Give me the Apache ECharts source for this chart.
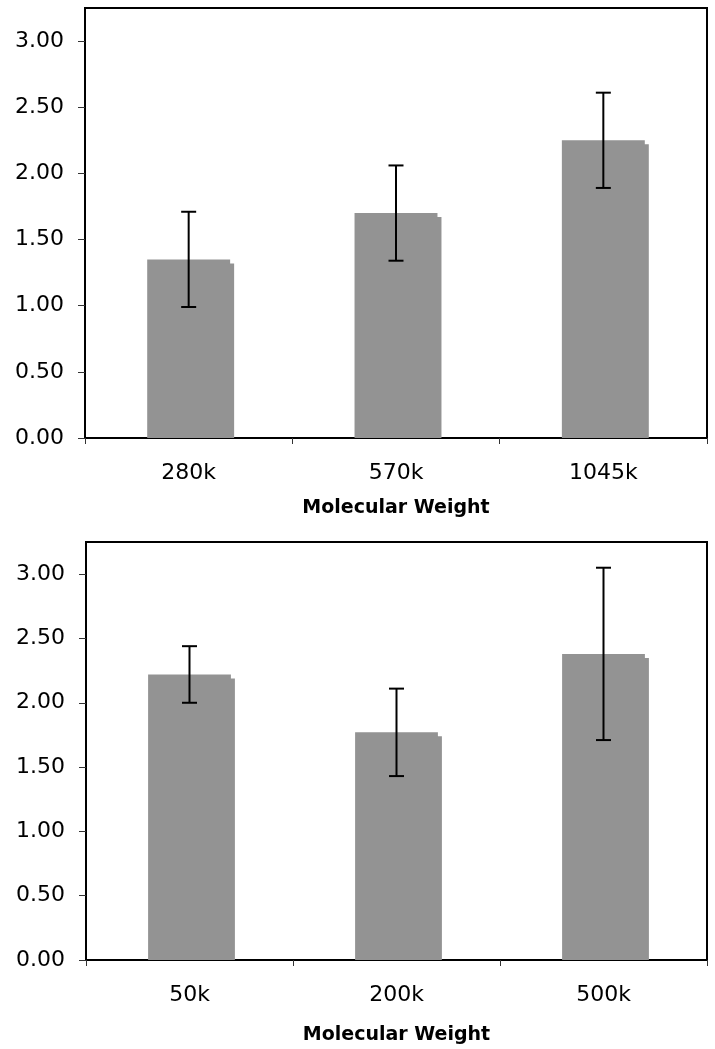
<!DOCTYPE html>
<html>
<head>
<meta charset="utf-8">
<script src="https://cdn.jsdelivr.net/npm/echarts@6/dist/echarts.min.js"></script>
<style>
	html,body{margin:0;padding:0;background:#fff;}
	#mw_chart{width:715px;height:1049px;}
</style>
</head>
<body>
<div id="mw_chart"></div>
<script>
/* 分子量 - 柱状图 + 误差线 */
var catTop = ['280k', '570k', '1045k'];
var meanTop = [1.35, 1.70, 2.25];
var errTop = [0.36, 0.36, 0.36];

var catBottom = ['50k', '200k', '500k'];
var meanBottom = [2.22, 1.77, 2.38];
var errBottom = [0.22, 0.34, 0.67];

var yTicks = [0, 0.5, 1, 1.5, 2, 2.5, 3];

(function(){
	var myChart = echarts.init(document.getElementById('mw_chart'));
	var font = 'DejaVu Sans';
	var barColor = '#939393';

	function barItem(params, api){
		var base = api.coord([api.value(0), 0]);
		var top = api.coord([api.value(0), api.value(1)]);
		var w = api.size([1, 0])[0] * 0.4;
		var x0 = base[0] - w / 2;
		return {
			type: 'polygon',
			shape: {
				points: [[x0, top[1]], [x0 + w, top[1]], [x0 + w, top[1] + 4],
					[x0 + w + 4, top[1] + 4], [x0 + w + 4, base[1]], [x0, base[1]]]
			},
			style: { fill: barColor }
		};
	}

	function errItem(params, api){
		var lo = api.coord([api.value(0), api.value(1)]);
		var hi = api.coord([api.value(0), api.value(2)]);
		var cap = 7.5;
		var st = { stroke: '#000', lineWidth: 2 };
		return {
			type: 'group',
			children: [
				{ type: 'line', shape: { x1: lo[0], y1: lo[1], x2: hi[0], y2: hi[1] }, style: st },
				{ type: 'line', shape: { x1: lo[0] - cap, y1: lo[1], x2: lo[0] + cap, y2: lo[1] }, style: st },
				{ type: 'line', shape: { x1: hi[0] - cap, y1: hi[1], x2: hi[0] + cap, y2: hi[1] }, style: st }
			]
		};
	}

	function xAxisOf(cats, idx, gap, margin){
		return {
			type: 'category',
			gridIndex: idx,
			data: cats,
			boundaryGap: true,
			name: 'Molecular Weight',
			nameLocation: 'middle',
			nameGap: gap,
			nameTextStyle: { fontFamily: font, fontSize: 19, fontWeight: 'bold', color: '#000' },
			axisLine: { show: false },
			axisTick: { show: true, alignWithLabel: false, length: 6, lineStyle: { color: '#333', width: 1 } },
			axisLabel: { fontFamily: font, fontSize: 22, color: '#000', margin: margin },
			splitLine: { show: false }
		};
	}

	function yAxisOf(idx){
		return {
			type: 'value',
			gridIndex: idx,
			min: 0,
			max: 3.25,
			axisLine: { show: false },
			axisTick: { show: true, length: 7, customValues: yTicks, lineStyle: { color: '#333', width: 1 } },
			axisLabel: {
				fontFamily: font, fontSize: 22, color: '#000', margin: 21,
				customValues: yTicks,
				formatter: function(v){ return v.toFixed(2); }
			},
			splitLine: { show: false }
		};
	}

	function pairs(vals){
		return vals.map(function(v, i){ return [i, v]; });
	}
	function errs(vals, e){
		return vals.map(function(v, i){ return [i, v - e[i], v + e[i]]; });
	}

	var option = {
		animation: false,
		backgroundColor: '#fff',
		grid: [
			{ left: 85, right: 8, top: 8, height: 430, show: true, borderColor: '#000', borderWidth: 2, backgroundColor: 'transparent' },
			{ left: 86, right: 8, top: 542, height: 418, show: true, borderColor: '#000', borderWidth: 2, backgroundColor: 'transparent' }
		],
		xAxis: [ xAxisOf(catTop, 0, 61, 24), xAxisOf(catBottom, 1, 66, 24) ],
		yAxis: [ yAxisOf(0), yAxisOf(1) ],
		series: [
			{ type: 'custom', xAxisIndex: 0, yAxisIndex: 0, renderItem: barItem, encode: { x: 0, y: 1 }, data: pairs(meanTop) },
			{ type: 'custom', xAxisIndex: 0, yAxisIndex: 0, renderItem: errItem, encode: { x: 0, y: [1, 2] }, data: errs(meanTop, errTop), z: 3 },
			{ type: 'custom', xAxisIndex: 1, yAxisIndex: 1, renderItem: barItem, encode: { x: 0, y: 1 }, data: pairs(meanBottom) },
			{ type: 'custom', xAxisIndex: 1, yAxisIndex: 1, renderItem: errItem, encode: { x: 0, y: [1, 2] }, data: errs(meanBottom, errBottom), z: 3 }
		]
	};
	myChart.setOption(option);
})();
</script>
</body>
</html>
